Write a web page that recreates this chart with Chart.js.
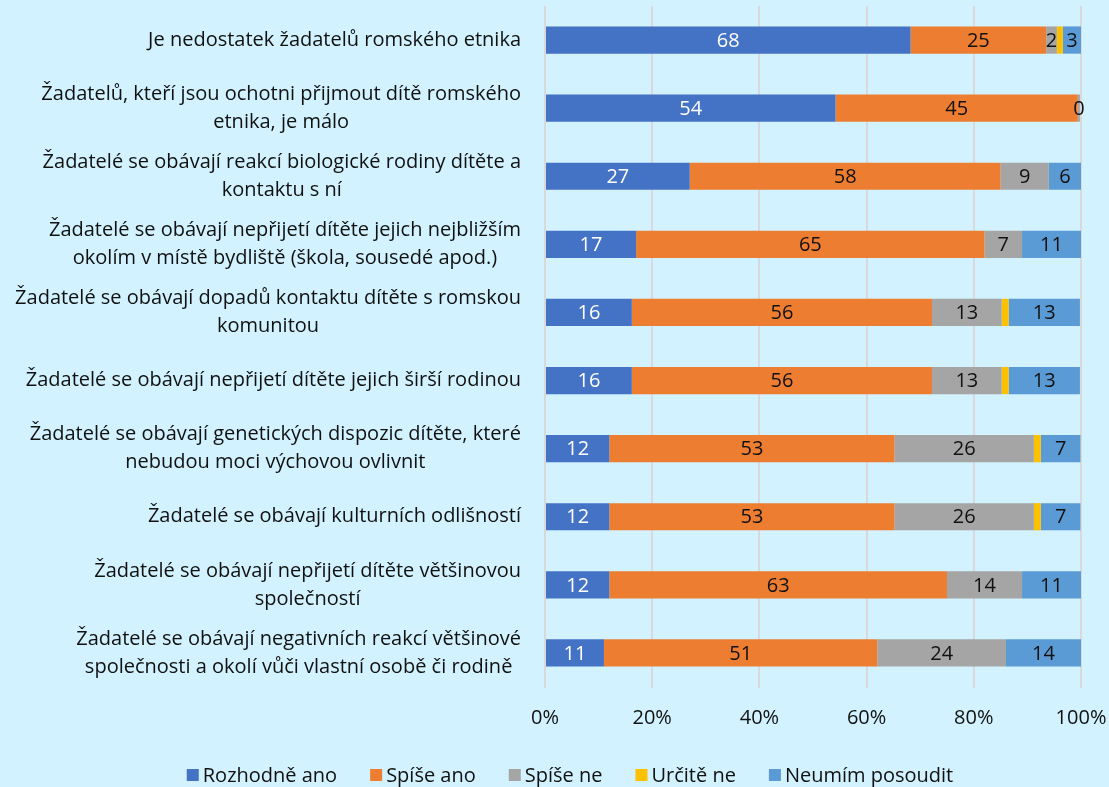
<!DOCTYPE html>
<html>
<head>
<meta charset="utf-8">
<script src="https://cdn.jsdelivr.net/npm/chart.js@4/dist/chart.umd.min.js"></script>
<style>
html,body{margin:0;padding:0;background:#D1F2FE;}
#wrap{width:1109px;height:787px;position:relative;}
</style>
</head>
<body>
<div id="wrap"><canvas id="c" width="1109" height="787"></canvas></div>
<script>
const categories = [
  ["Je nedostatek žadatelů romského etnika"],
  ["Žadatelů, kteří jsou ochotni přijmout dítě romského", "etnika, je málo"],
  ["Žadatelé se obávají reakcí biologické rodiny dítěte a", "kontaktu s ní"],
  ["Žadatelé se obávají nepřijetí dítěte jejich nejbližším", "okolím v místě bydliště (škola, sousedé apod.)"],
  ["Žadatelé se obávají dopadů kontaktu dítěte s romskou", "komunitou"],
  ["Žadatelé se obávají nepřijetí dítěte jejich širší rodinou"],
  ["Žadatelé se obávají genetických dispozic dítěte, které", "nebudou moci výchovou ovlivnit"],
  ["Žadatelé se obávají kulturních odlišností"],
  ["Žadatelé se obávají nepřijetí dítěte většinovou", "společností"],
  ["Žadatelé se obávají negativních reakcí většinové", "společnosti a okolí vůči vlastní osobě či rodině"]
];
const seriesNames = ["Rozhodně ano", "Spíše ano", "Spíše ne", "Určitě ne", "Neumím posoudit"];
const rozhodneAno = [68.2, 54.2, 27, 17, 16.2, 16.2, 12, 12, 12, 11];
const spiseAno    = [25.3, 45.2, 58, 65, 56, 56, 53.2, 53.2, 63, 51];
const spiseNe     = [2, 0.4, 9, 7, 13, 13, 26, 26, 14, 24];
const urciteNe    = [1.1, 0, 0, 0, 1.3, 1.3, 1.3, 1.3, 0, 0];
const neumim      = [3.4, 0, 6, 11, 13.3, 13.3, 7.4, 7.4, 11, 14];
const tickValues  = [0, 20, 40, 60, 80, 100];

const colors = ["#4472C4", "#ED7D31", "#A5A5A5", "#FFC000", "#5B9BD5"];
const labelColors = ["#FFFFFF", "#111111", "#111111", "#111111", "#111111"];
const FONT = "'Open Sans', 'Noto Sans', sans-serif";
const FS = 20;

const labelPlugin = {
  id: 'barLabels',
  afterDatasetsDraw(chart) {
    const ctx = chart.ctx;
    ctx.save();
    ctx.font = FS + "px " + FONT;
    ctx.textAlign = 'center';
    ctx.textBaseline = 'middle';
    chart.data.datasets.forEach((ds, di) => {
      if (di === 3) return;
      const meta = chart.getDatasetMeta(di);
      meta.data.forEach((el, i) => {
        const v = ds.data[i];
        if (!v) return;
        ctx.fillStyle = labelColors[di];
        ctx.fillText(String(Math.round(v)), (el.x + el.base) / 2, el.y + 1);
      });
    });
    ctx.restore();
  }
};

const catLabelPlugin = {
  id: 'catLabels',
  afterDraw(chart) {
    const ctx = chart.ctx;
    const y = chart.scales.y;
    ctx.save();
    ctx.font = FS + "px " + FONT;
    ctx.fillStyle = '#111111';
    ctx.textAlign = 'center';
    ctx.textBaseline = 'middle';
    const right = 521, lh = 28;
    categories.forEach((lines, i) => {
      const cy = y.getPixelForValue(i);
      const w = Math.max(...lines.map(l => ctx.measureText(l).width));
      const cx = right - w / 2;
      lines.forEach((l, k) => {
        ctx.fillText(l, cx, cy + (k - (lines.length - 1) / 2) * lh);
      });
    });
    // custom legend
    const box = 12, gap = 4, spacing = 33, ly = 775;
    const widths = seriesNames.map(n => box + gap + ctx.measureText(n).width);
    const total = widths.reduce((a, b) => a + b, 0) + spacing * (seriesNames.length - 1);
    let x = 570 - total / 2;
    ctx.textAlign = 'left';
    seriesNames.forEach((n, i) => {
      ctx.fillStyle = colors[i];
      ctx.fillRect(x, ly - box / 2, box, box);
      ctx.fillStyle = '#111111';
      ctx.fillText(n, x + box + gap, ly + 1);
      x += widths[i] + spacing;
    });
    ctx.restore();
  }
};

const data = {
  labels: categories.map(c => c.join(' ')),
  datasets: [rozhodneAno, spiseAno, spiseNe, urciteNe, neumim].map((d, i) => ({
    label: seriesNames[i],
    data: d,
    backgroundColor: colors[i],
    borderWidth: 0,
    categoryPercentage: 1,
    barPercentage: 0.4
  }))
};

new Chart(document.getElementById('c'), {
  type: 'bar',
  data,
  plugins: [labelPlugin, catLabelPlugin],
  options: {
    indexAxis: 'y',
    responsive: false,
    animation: false,
    devicePixelRatio: 1,
    layout: { padding: { top: 6, right: 28, bottom: 39, left: 0 } },
    scales: {
      x: {
        stacked: true,
        min: 0, max: 100,
        afterBuildTicks(scale) { scale.ticks = tickValues.map(v => ({ value: v })); },
        afterFit(scale) { scale.paddingRight = 0; scale.paddingLeft = 0; },
        ticks: {
          callback: v => v + '%',
          font: { family: FONT, size: FS },
          color: '#111111',
          padding: 18
        },
        grid: { color: '#D9D9D9', lineWidth: 2, tickLength: 1, drawTicks: true },
        border: { display: false }
      },
      y: {
        stacked: true,
        ticks: { display: false },
        grid: { display: false },
        border: { display: false },
        afterFit(scale) { scale.width = 545; }
      }
    },
    plugins: {
      legend: { display: false },
      tooltip: { enabled: false }
    }
  }
});
</script>
</body>
</html>
